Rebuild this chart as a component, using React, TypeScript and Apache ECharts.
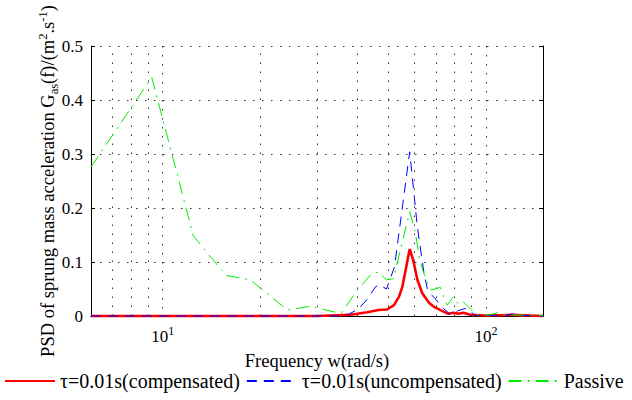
import React, { useEffect, useRef } from 'react';
import * as echarts from 'echarts';

// Frequency (rad/s) and PSD values
const freqComp = [6, 30, 37.5, 39.9, 42.9, 46.5, 49.4, 51.9, 53.8, 55.1, 56.4, 58.05, 59.5, 61.3, 63.5, 66.7, 69.0, 72.3, 76.4, 79.2, 82.1, 85.1, 90, 100, 120, 150];
const psdComp = [0, 0, 0.002, 0.004, 0.007, 0.011, 0.012, 0.020, 0.036, 0.054, 0.085, 0.124, 0.104, 0.067, 0.042, 0.024, 0.017, 0.011, 0.004, 0.006, 0.004, 0.006, 0.002, 0.001, 0.002, 0];

const freqUncomp = [6, 35.4, 37.5, 40.3, 42.9, 45.5, 46.8, 49.2, 52.1, 58.05, 61.3, 64.3, 65.8, 67.5, 69.2, 73.8, 77.5, 82.1, 86.3, 89.4, 92, 114.7, 120.6, 127.6, 150];
const psdUncomp = [0, 0, 0.003, 0.013, 0.031, 0.054, 0.058, 0.050, 0.091, 0.304, 0.165, 0.079, 0.051, 0.040, 0.034, 0.014, 0.003, 0.010, 0.014, 0.010, 0.001, 0.001, 0.004, 0.001, 0];

const freqPassive = [6.0, 9.25, 12.44, 15.7, 18.66, 24.3, 28.6, 34.2, 35.9, 39.4, 44.5, 46.5, 49.2, 51.7, 58.05, 60.4, 62.2, 64.0, 65.8, 67.8, 72.2, 75.8, 79.2, 82.1, 85.2, 89.4, 93.8, 103.1, 108.1, 113.6, 150];
const psdPassive = [0.276, 0.442, 0.148, 0.075, 0.067, 0.011, 0.018, 0.007, 0.007, 0.043, 0.080, 0.081, 0.067, 0.069, 0.193, 0.156, 0.107, 0.081, 0.061, 0.048, 0.053, 0.020, 0.035, 0.022, 0.026, 0.013, 0.002, 0.002, 0.006, 0.002, 0.001];

const minorGridFreqs = [7, 8, 9, 20, 30, 40, 50, 60, 70, 80, 90];

const seriesNames = ['τ=0.01s(compensated)', 'τ=0.01s(uncompensated)', 'Passive'];

const FONT = '"Liberation Serif", "Times New Roman", serif';

export default function App() {
  const ref = useRef<HTMLDivElement>(null);
  useEffect(() => {
    const chart = echarts.init(ref.current!, null, { renderer: 'svg' });
    const zip = (f: number[], v: number[]) => f.map((x, i) => [x, v[i]]);
    const dotted = { color: '#333', type: [1.5, 7.5], width: 1 };
    const axisLineStyle = { lineStyle: { color: '#000', width: 1 } };
    chart.setOption({
      animation: false,
      backgroundColor: '#fff',
      grid: { left: 91, right: 89, top: 46, bottom: 84 },
      legend: {
        data: seriesNames,
        left: 4,
        top: 371,
        padding: 0,
        itemWidth: 50,
        itemHeight: 14,
        itemGap: 6,
        itemStyle: { opacity: 0 },
        textStyle: { fontFamily: FONT, fontSize: 20, color: '#000' },
      },
      xAxis: [
        {
          type: 'log',
          logBase: 10,
          min: 6,
          max: 150,
          position: 'bottom',
          axisLine: axisLineStyle,
          axisTick: { show: false },
          splitLine: { show: true, lineStyle: dotted },
          name: 'Frequency w(rad/s)',
          nameLocation: 'middle',
          nameGap: 35,
          nameMoveOverlap: false,
          nameTextStyle: { fontFamily: FONT, fontSize: 18.5, color: '#000' },
          axisLabel: {
            margin: 9,
            showMinLabel: false,
            showMaxLabel: false,
            fontFamily: FONT,
            fontSize: 17,
            color: '#000',
            lineHeight: 22,
            formatter: (v: number) => {
              const l = Math.log10(v);
              const r = Math.round(l);
              return Math.abs(l - r) < 1e-6 ? '10{sup|' + r + '}' : '';
            },
            rich: {
              sup: { fontFamily: FONT, fontSize: 12, color: '#000', verticalAlign: 'top', lineHeight: 12 },
            },
          },
        },
        {
          type: 'log',
          logBase: 10,
          min: 6,
          max: 150,
          position: 'top',
          axisLine: axisLineStyle,
          axisTick: { show: false },
          axisLabel: { show: false },
          splitLine: { show: false },
        },
      ],
      yAxis: [
        {
          type: 'value',
          min: 0,
          max: 0.5,
          interval: 0.1,
          position: 'left',
          axisLine: { show: true, ...axisLineStyle },
          axisTick: { show: true, inside: true, length: 4, lineStyle: { color: '#000' } },
          splitLine: { show: true, lineStyle: dotted },
          axisLabel: { margin: 8, fontFamily: FONT, fontSize: 17, color: '#000' },
          name: 'PSD of sprung mass acceleration G{sub|as}(f)/(m{sup|2}.s{sup|-1})',
          nameLocation: 'middle',
          nameGap: 31,
          nameMoveOverlap: false,
          nameTextStyle: {
            fontFamily: FONT,
            fontSize: 18.5,
            color: '#000',
            lineHeight: 24,
            rich: {
              sub: { fontFamily: FONT, fontSize: 12.5, color: '#000', verticalAlign: 'bottom', lineHeight: 12.5 },
              sup: { fontFamily: FONT, fontSize: 12.5, color: '#000', verticalAlign: 'top', lineHeight: 12.5 },
            },
          },
        },
        {
          type: 'value',
          min: 0,
          max: 0.5,
          interval: 0.1,
          position: 'right',
          axisLine: { show: true, ...axisLineStyle },
          axisTick: { show: true, inside: true, length: 4, lineStyle: { color: '#000' } },
          axisLabel: { show: false },
          splitLine: { show: false },
        },
      ],
      series: [
        {
          name: '_minorGrid',
          type: 'line',
          data: [],
          z: 1,
          silent: true,
          markLine: {
            silent: true,
            symbol: ['none', 'none'],
            label: { show: false },
            lineStyle: dotted,
            data: minorGridFreqs.map((f) => ({ xAxis: f })),
          },
        },
        {
          name: seriesNames[0],
          type: 'line',
          data: zip(freqComp, psdComp),
          showSymbol: false,
          symbol: 'none',
          clip: false,
          z: 3,
          lineStyle: { color: '#ff0000', width: 2.6 },
          itemStyle: { color: '#ff0000' },
        },
        {
          name: seriesNames[1],
          type: 'line',
          data: zip(freqUncomp, psdUncomp),
          showSymbol: false,
          symbol: 'none',
          clip: false,
          z: 4,
          lineStyle: { color: '#0000ff', width: 1, type: [10, 7] },
          itemStyle: { color: '#0000ff' },
        },
        {
          name: seriesNames[2],
          type: 'line',
          data: zip(freqPassive, psdPassive),
          showSymbol: false,
          symbol: 'none',
          clip: false,
          z: 5,
          lineStyle: { color: '#00ee00', width: 1, type: [13, 6, 2, 6] },
          itemStyle: { color: '#00ee00' },
        },
      ],
    });
    return () => chart.dispose();
  }, []);
  return <div ref={ref} style={{ position: 'absolute', left: 0, top: 0, width: 632, height: 400 }} />;
}
